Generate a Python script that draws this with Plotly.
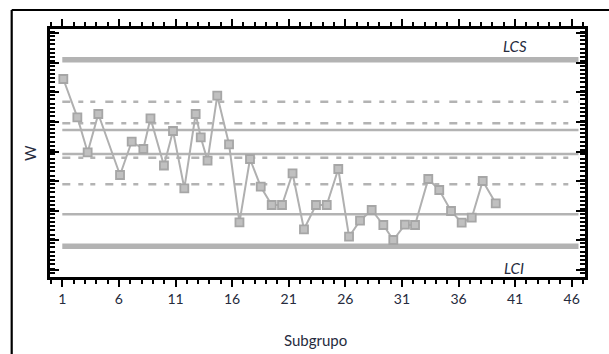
import plotly.graph_objects as go

# Subgroup positions and W values
subgrupo = [1.09, 2.33, 3.24, 4.18, 6.10, 7.13, 8.16, 8.79, 9.98, 10.78,
            11.78, 12.78, 13.23, 13.83, 14.69, 15.73, 16.65, 17.58, 18.53, 19.50,
            20.41, 21.34, 22.35, 23.41, 24.36, 25.38, 26.33, 27.30, 28.33, 29.36,
            30.24, 31.27, 32.16, 33.33, 34.30, 35.34, 36.28, 37.17, 38.14, 39.29]
w_values = [19.80, 15.97, 12.47, 16.30, 10.20, 13.53, 12.80, 15.87, 11.15, 14.60,
            8.87, 16.30, 13.97, 11.63, 18.13, 13.27, 5.47, 11.80, 9.03, 7.20,
            7.20, 10.37, 4.77, 7.20, 7.20, 10.80, 4.03, 5.63, 6.70, 5.20,
            3.70, 5.23, 5.20, 9.80, 8.70, 6.60, 5.43, 5.93, 9.60, 7.37]

# Control / zone lines
lcs = 21.73
lci = 3.07
solid_lines = [14.70, 12.30, 6.27]
dashed_lines = [17.53, 15.37, 11.93, 9.27]

x_ticks = [1, 6, 11, 16, 21, 26, 31, 36, 41, 46]
line_x = [1.0, 46.6]

GRAY = "#b3b3b3"
TXT = "#262b3d"
FONT = "Lato"

# plot-area geometry in pixels
L, R, T, B = 50, 24, 29, 77
W, H = 609, 354
PW, PH = W - L - R, H - T - B


def px_x(p):
    return (p - L) / PW


def px_y(p):
    return (T + PH - p) / PH


fig = go.Figure()

for v in dashed_lines:
    fig.add_trace(go.Scatter(x=line_x, y=[v, v], mode="lines",
                             line=dict(color=GRAY, width=2.5, dash="8px,8px,5px,7px,5px,10px"),
                             hoverinfo="skip", showlegend=False))
for v in solid_lines:
    fig.add_trace(go.Scatter(x=line_x, y=[v, v], mode="lines",
                             line=dict(color=GRAY, width=2.5),
                             hoverinfo="skip", showlegend=False))
for v in (lcs, lci):
    fig.add_trace(go.Scatter(x=line_x, y=[v, v], mode="lines",
                             line=dict(color=GRAY, width=5.5),
                             hoverinfo="skip", showlegend=False))

fig.add_trace(go.Scatter(x=subgrupo, y=w_values, mode="lines+markers",
                         line=dict(color="#b0b0b0", width=2),
                         marker=dict(symbol="square", size=8, color="#c0c0c0",
                                     line=dict(color="#a6a6a6", width=1.8)),
                         showlegend=False))

x_lo = 1 - (62.3 - L) / 11.32
x_hi = x_lo + PW / 11.32

fig.update_layout(
    width=W, height=H,
    margin=dict(l=L, r=R, t=T, b=B),
    paper_bgcolor="white", plot_bgcolor="white",
    font=dict(family=FONT, size=14, color=TXT),
    xaxis=dict(range=[x_lo, x_hi], showgrid=False, zeroline=False,
               tickvals=x_ticks, ticks="outside", ticklen=7, tickwidth=2,
               tickcolor="black", showline=True, linewidth=2.5, linecolor="black",
               mirror="allticks",
               minor=dict(dtick=1, tick0=1, ticks="outside", ticklen=4,
                          tickwidth=2, tickcolor="black"),
               tickfont=dict(family=FONT, size=14, color=TXT)),
    yaxis=dict(range=[0, 24.8], showgrid=False, zeroline=False,
               tick0=0.7, dtick=2.96, ticks="inside", ticklen=9, tickwidth=2.4,
               tickcolor="black", showticklabels=False,
               showline=True, linewidth=2.5, linecolor="black", mirror="allticks",
               minor=dict(dtick=2.96 / 7, ticks="inside", ticklen=5.5,
                          tickwidth=2.2, tickcolor="black")),
    shapes=[
        dict(type="line", xref="paper", yref="paper", x0=px_x(11.7), x1=1.3,
             y0=px_y(10), y1=px_y(10), line=dict(color="black", width=2.2)),
        dict(type="line", xref="paper", yref="paper", x0=px_x(11.7), x1=px_x(11.7),
             y0=px_y(10), y1=-0.5, line=dict(color="black", width=2.2)),
    ],
    annotations=[
        dict(text="<i>LCS</i>", x=px_x(515), y=px_y(46), xref="paper", yref="paper",
             xanchor="center", yanchor="middle", showarrow=False,
             font=dict(family=FONT, size=15, color=TXT)),
        dict(text="<i>LCI</i>", x=px_x(514), y=px_y(268), xref="paper", yref="paper",
             xanchor="center", yanchor="middle", showarrow=False,
             font=dict(family=FONT, size=15, color=TXT)),
        dict(text="Subgrupo", x=px_x(315), y=px_y(340), xref="paper", yref="paper",
             xanchor="center", yanchor="middle", showarrow=False,
             font=dict(family=FONT, size=15, color=TXT)),
        dict(text="W", x=px_x(30), y=px_y(153), xref="paper", yref="paper",
             xanchor="center", yanchor="middle", textangle=-90, showarrow=False,
             font=dict(family=FONT, size=15, color=TXT)),
    ],
)

fig.write_html("out.html")
